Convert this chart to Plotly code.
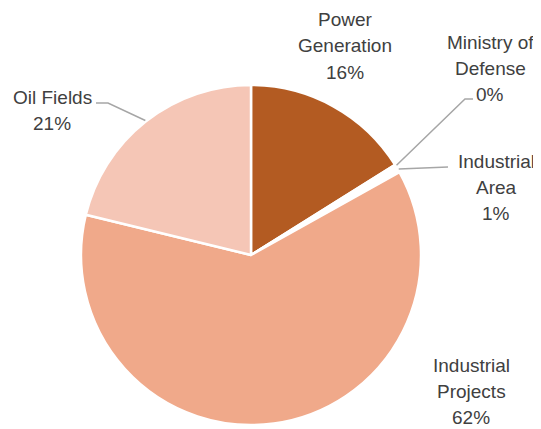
import math
import plotly.graph_objects as go

categories = ["Power Generation", "Ministry of Defense", "Industrial Area", "Industrial Projects", "Oil Fields"]
label_lines = [["Power", "Generation"], ["Ministry of", "Defense"], ["Industrial", "Area"], ["Industrial", "Projects"], ["Oil Fields"]]
values = [16.1, 0.2, 0.6, 61.9, 21.2]
pct_labels = ["16%", "0%", "1%", "62%", "21%"]
colors = ["#B35B22", "#FFFFFF", "#FFFFFF", "#F0A98A", "#F5C6B6"]

OFF = 8                      # page body margin of the browser
W, H = 541 - OFF, 429 - OFF  # figure size so that it fits the window
cx, cy, r = 251 - OFF, 255 - OFF, 170

def px(x, y):
    """reference-picture pixel -> paper coordinates"""
    return (x - OFF) / W, 1 - (y - OFF) / H

fig = go.Figure(go.Pie(
    labels=categories, values=values, sort=False, direction="clockwise", rotation=0,
    marker=dict(colors=colors, line=dict(color="#FFFFFF", width=2.5)),
    textinfo="none", hoverinfo="label+percent", showlegend=False,
    domain=dict(x=[(cx - r) / W, (cx + r) / W], y=[(H - cy - r) / H, (H - cy + r) / H]),
))

# first-line centre of each label block (reference pixels), line spacing
label_pos = [(345, 20), (490, 42), (496, 161), (471, 365), (52, 97)]
LINE = 26
leaders = {1: [(465, 99), (473, 99)], 2: [(448, 167)], 4: [(108, 103), (96, 103)]}

annotations = []
shapes = []
total = sum(values)
cum = 0
for i, v in enumerate(values):
    mid = (cum + v / 2) / total * 2 * math.pi
    cum += v
    lines = label_lines[i] + [pct_labels[i]]
    bx, by = label_pos[i]
    for k, t in enumerate(lines):
        x, y = px(bx, by + k * LINE)
        annotations.append(dict(x=x, y=y, xref="paper", yref="paper", text=t, showarrow=False,
                                font=dict(family="Liberation Sans", size=19, color="#404040"),
                                align="center", xanchor="center", yanchor="middle"))
    if i in leaders:
        sx = 251 + (r + 1) * math.sin(mid)
        sy = 255 - (r + 1) * math.cos(mid)
        pts = [(sx, sy)] + leaders[i]
        path = "M " + " L ".join(f"{px(a, b)[0]},{px(a, b)[1]}" for a, b in pts)
        shapes.append(dict(type="path", xref="paper", yref="paper", path=path,
                           line=dict(color="#A6A6A6", width=1.5)))

fig.update_layout(width=W, height=H, margin=dict(l=0, r=0, t=0, b=0),
                  paper_bgcolor="white", plot_bgcolor="white",
                  annotations=annotations, shapes=shapes)
fig.write_html("out.html")
